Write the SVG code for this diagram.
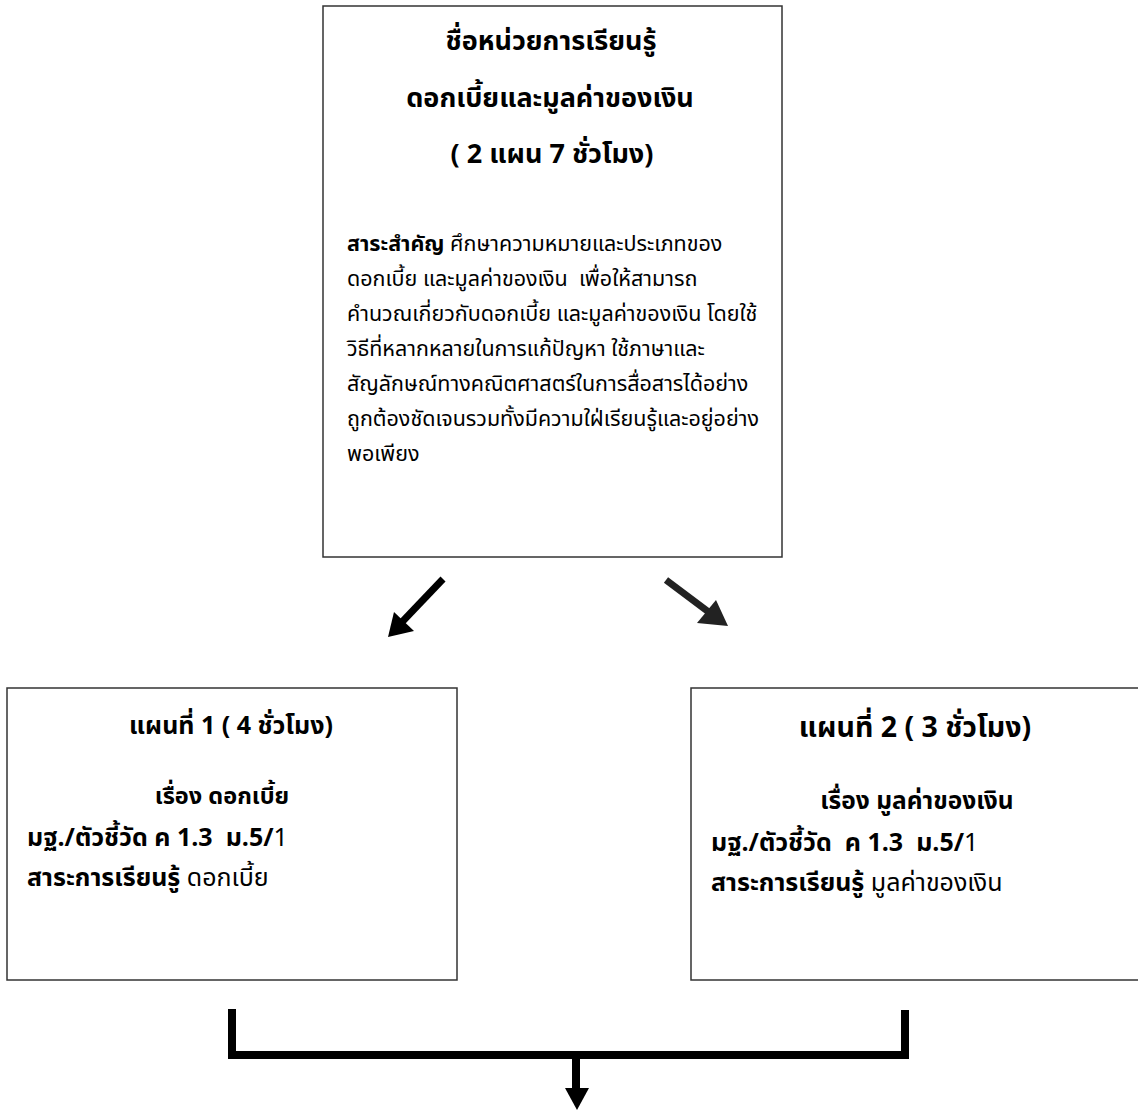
<svg xmlns="http://www.w3.org/2000/svg" width="1138" height="1110" viewBox="0 0 1138 1110">
<style>
text{font-family:"Noto Sans Thai","Tahoma","DejaVu Sans","Noto Sans",sans-serif;fill:#000;white-space:pre}
.box{fill:#fff;stroke:#333;stroke-width:1.5}
.t1{font-size:27px;font-weight:bold;text-anchor:middle}
.bd{font-size:21.5px}
.b{font-weight:bold}
.h{text-anchor:middle;font-weight:bold}
.s{font-size:25px}
</style>
<rect width="1138" height="1110" fill="#fff"/>
<g id="top">
<rect class="box" x="323" y="6" width="459" height="551"/>
<text class="t1" x="551" y="50">ชื่อหน่วยการเรียนรู้</text>
<text class="t1" x="550" y="107">ดอกเบี้ยและมูลค่าของเงิน</text>
<text class="t1" x="552" y="163">( 2 แผน 7 ชั่วโมง)</text>
<text class="bd" x="347" y="251"><tspan class="b">สาระสำคัญ</tspan> ศึกษาความหมายและประเภทของ</text>
<text class="bd" x="347" y="286">ดอกเบี้ย และมูลค่าของเงิน  เพื่อให้สามารถ</text>
<text class="bd" x="347" y="321">คำนวณเกี่ยวกับดอกเบี้ย และมูลค่าของเงิน โดยใช้</text>
<text class="bd" x="347" y="356">วิธีที่หลากหลายในการแก้ปัญหา ใช้ภาษาและ</text>
<text class="bd" x="347" y="391">สัญลักษณ์ทางคณิตศาสตร์ในการสื่อสารได้อย่าง</text>
<text class="bd" x="347" y="426">ถูกต้องชัดเจนรวมทั้งมีความใฝ่เรียนรู้และอยู่อย่าง</text>
<text class="bd" x="347" y="461">พอเพียง</text>
</g>
<g id="plan1">
<rect class="box" x="7" y="688" width="450" height="292"/>
<text class="h" x="231" y="734" style="font-size:25px">แผนที่ 1 ( 4 ชั่วโมง)</text>
<text class="h" x="222" y="804" style="font-size:23.5px">เรื่อง ดอกเบี้ย</text>
<text class="s" x="27" y="846"><tspan class="b">มฐ./ตัวชี้วัด ค 1.3  ม.5/</tspan>1</text>
<text class="s" x="27" y="886"><tspan class="b">สาระการเรียนรู้</tspan> ดอกเบี้ย</text>
</g>
<g id="plan2">
<rect class="box" x="691" y="688" width="460" height="292"/>
<text class="h" x="915" y="737" style="font-size:28.5px">แผนที่ 2 ( 3 ชั่วโมง)</text>
<text class="h" x="917" y="809" style="font-size:24.5px">เรื่อง มูลค่าของเงิน</text>
<text class="s" x="711" y="851"><tspan class="b">มฐ./ตัวชี้วัด  ค 1.3  ม.5/</tspan>1</text>
<text class="s" x="711" y="891"><tspan class="b">สาระการเรียนรู้</tspan> มูลค่าของเงิน</text>
</g>
<g id="connectors" fill="none">
<line x1="443" y1="579" x2="402" y2="622" stroke="#000" stroke-width="7"/>
<path d="M388,637 L394,612 L414,631 Z" fill="#000" stroke="none"/>
<line x1="666" y1="580" x2="710" y2="613" stroke="#222" stroke-width="7"/>
<path d="M697,623 L728,626 L716,600 Z" fill="#222" stroke="none"/>
<path d="M232,1009 V1055 H905 V1010" stroke="#000" stroke-width="8"/>
<line x1="576" y1="1058" x2="576" y2="1090" stroke="#000" stroke-width="8"/>
<path d="M565,1088 L589,1088 L577,1110 Z" fill="#000" stroke="none"/>
</g>
</svg>
